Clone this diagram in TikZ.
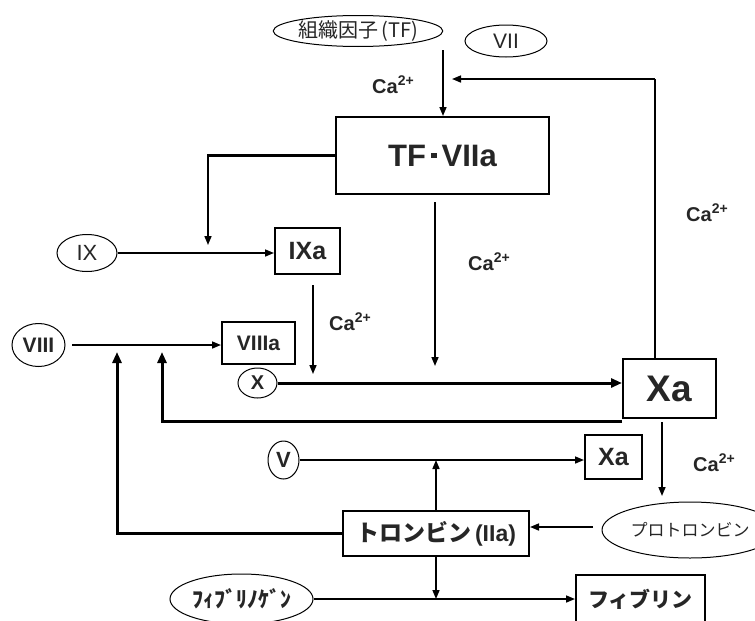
\documentclass[tikz,border=0pt]{standalone}
\usepackage{fontspec}
\setmainfont{Liberation Sans}
\newfontfamily\jp{Noto Sans CJK JP}
\usetikzlibrary{arrows.meta,shapes.geometric}
\newcommand{\caion}{Ca\raisebox{0.42em}{\fontsize{14}{14}\selectfont 2+}}
\tikzset{
  txt/.style={text=black!85, inner sep=0pt},
  ell/.style={ellipse, draw, line width=1pt, inner sep=0pt, txt},
  bx/.style={rectangle, draw, line width=2pt, inner sep=0pt, txt, font=\bfseries},
  arr/.style={line width=1.6pt, -{Triangle[length=9pt,width=7pt]}},
  thk/.style={line width=3pt, -{Triangle[length=11pt,width=9pt]}},
  ln/.style={line width=2.5pt},
  ca/.style={txt, font=\bfseries\fontsize{20}{20}\selectfont},
}
\begin{document}
\begin{tikzpicture}[x=1pt,y=-1pt]
\useasboundingbox (0,0) rectangle (755,621);
% nodes
\node[ell, minimum width=166pt, minimum height=31pt, font=\jp\fontsize{20}{20}\selectfont] (TF) at (358,31) {組織因子\,(TF)};
\node[ell, minimum width=82pt, minimum height=32pt, font=\fontsize{21}{21}\selectfont] (VII) at (506,41) {VII};
\node[bx, minimum width=213pt, minimum height=77pt, font=\bfseries\fontsize{31}{31}\selectfont] (TFV) at (442.5,155.5) {TF\hspace{5pt}\raisebox{8pt}{\rule{5.5pt}{5.5pt}}\hspace{5pt}VIIa};
\node[ell, minimum width=60pt, minimum height=37pt, font=\fontsize{22}{22}\selectfont] (IX) at (87,253) {IX};
\node[bx, minimum width=65pt, minimum height=46pt, font=\bfseries\fontsize{25}{25}\selectfont] (IXa) at (307.5,251) {IXa};
\node[ell, minimum width=53pt, minimum height=43pt, font=\bfseries\fontsize{21}{21}\selectfont] (VIII) at (38.5,345) {VIII};
\node[bx, minimum width=73pt, minimum height=42pt, font=\bfseries\fontsize{21}{21}\selectfont] (VIIIa) at (258.5,343) {VIIIa};
\node[ell, minimum width=39pt, minimum height=30pt, font=\bfseries\fontsize{20}{20}\selectfont] (X) at (257.5,383) {X};
\node[bx, minimum width=93pt, minimum height=59pt, font=\bfseries\fontsize{37}{37}\selectfont] (Xa) at (669.5,388.5) {Xa};
\node[ell, minimum width=31pt, minimum height=38pt, font=\bfseries\fontsize{22}{22}\selectfont] (V) at (283.5,460) {V};
\node[bx, minimum width=57pt, minimum height=44pt, font=\bfseries\fontsize{25}{25}\selectfont] (Xa2) at (613.5,457) {Xa};
\node[bx, minimum width=186pt, minimum height=45pt, font=\bfseries\fontsize{23}{23}\selectfont] (Th) at (436,533.5) {{\jp\bfseries トロンビン}\hspace{4pt}(IIa)};
\node[ell, minimum width=176pt, minimum height=56pt, font=\jp\fontsize{17}{17}\selectfont] (Pro) at (690,530) {プロトロンビン};
\node[ell, minimum width=143pt, minimum height=50pt, font=\jp\bfseries\fontsize{22}{22}\selectfont] (Fg) at (241.5,599) {ﾌｨﾌﾞﾘﾉｹﾞﾝ};
\node[bx, minimum width=129pt, minimum height=50pt, font=\jp\bfseries\fontsize{21}{21}\selectfont] (Fb) at (640.5,600) {\raisebox{3pt}{フィブリン}};
% Ca labels
\node[ca] (ca1) at (393,85) {\caion};
\node[ca] (ca2) at (707,213) {\caion};
\node[ca] (ca3) at (489,262) {\caion};
\node[ca] (ca4) at (350,322) {\caion};
\node[ca] (ca5) at (714,463) {\caion};
% coordinates
\coordinate (a1) at (443,50);
\coordinate (a2) at (452,79);
\coordinate (a3) at (655,79);
\coordinate (b1) at (208,245);
\coordinate (c1) at (435,202);
\coordinate (c2) at (435,366);
\coordinate (d1) at (313,285);
\coordinate (d2) at (313,374);
\coordinate (e1) at (162,352);
\coordinate (e2) at (117,352);
\coordinate (f1) at (662,422);
\coordinate (f2) at (662,496);
\coordinate (g1) at (593,527);
\coordinate (h1) at (72,345);
% connectors
\draw[arr] (a1) -- (a1 |- TFV.north);
\draw[ln] (Xa.north -| a3) -- (a3);
\draw[arr] (a3) -- (a2);
\draw[ln] (TFV.west) -| ([yshift=-1pt]b1 |- TFV.west);
\draw[arr] (b1 |- TFV.west) -- (b1);
\draw[arr] (IX.east) -- (IXa.west |- IX.east);
\draw[arr] (c1) -- (c2);
\draw[arr] (d1) -- (d2);
\draw[arr] (h1) -- (VIIIa.west |- h1);
\draw[thk] (X.east) -- (Xa.west |- X.east);
\draw[thk] ([yshift=-2pt]Xa.south west) -| (e1);
\draw[thk] (Th.west) -| (e2);
\draw[arr] (V.east) -- (Xa2.west |- V.east);
\draw[arr] (Th.north) -- (Th.north |- V.east);
\draw[arr] (f1) -- (f2);
\draw[arr] (g1) -- (Th.east |- g1);
\draw[arr] (Th.south) -- (Th.south |- Fg.east);
\draw[arr] (Fg.east) -- (Fb.west |- Fg.east);
\end{tikzpicture}
\end{document}
